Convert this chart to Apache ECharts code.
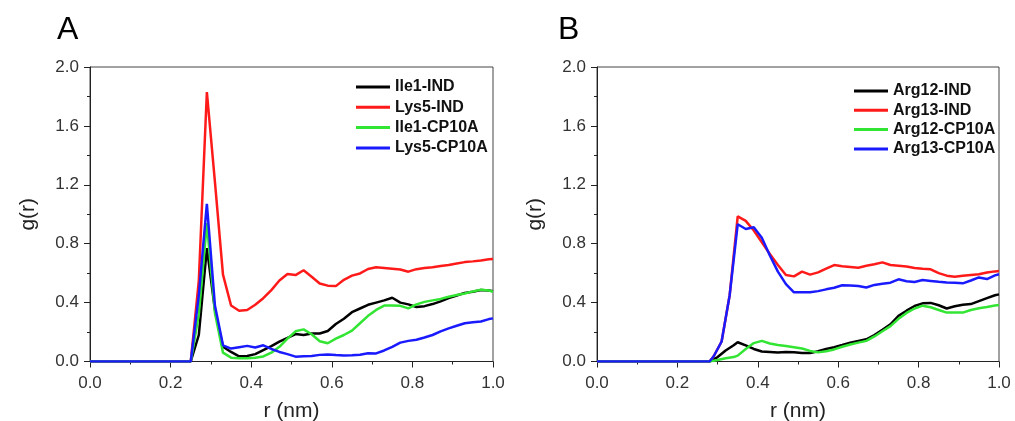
<!DOCTYPE html>
<html>
<head>
<meta charset="utf-8">
<script src="https://cdn.jsdelivr.net/npm/echarts@6/dist/echarts.min.js"></script>
<style>html,body{margin:0;padding:0;background:#fff;}#c{width:1015px;height:421px;}</style>
</head>
<body>
<div id="c"></div>
<script>
// ---- Data ----
const namesA = ['Ile1-IND', 'Lys5-IND', 'Ile1-CP10A', 'Lys5-CP10A'];
const namesB = ['Arg12-IND', 'Arg13-IND', 'Arg12-CP10A', 'Arg13-CP10A'];
const xTicks = [0, 0.2, 0.4, 0.6, 0.8, 1.0];
const yTicks = [0, 0.4, 0.8, 1.2, 1.6, 2.0];

const ile1IND = [[0,0],[0.25,0],[0.27,0.18],[0.29,0.77],[0.31,0.35],[0.33,0.10],[0.35,0.065],[0.37,0.035],[0.39,0.038],[0.41,0.05],[0.43,0.078],[0.45,0.105],[0.47,0.135],[0.49,0.16],[0.51,0.186],[0.53,0.18],[0.55,0.19],[0.57,0.19],[0.59,0.207],[0.61,0.255],[0.63,0.29],[0.65,0.335],[0.67,0.36],[0.69,0.385],[0.71,0.40],[0.73,0.415],[0.75,0.433],[0.77,0.40],[0.79,0.388],[0.81,0.37],[0.83,0.376],[0.85,0.39],[0.87,0.408],[0.89,0.43],[0.91,0.448],[0.93,0.466],[0.95,0.474],[0.97,0.485],[0.99,0.482],[1.0,0.478]];
const lys5IND = [[0,0],[0.25,0],[0.27,0.55],[0.29,1.83],[0.31,1.22],[0.33,0.59],[0.35,0.38],[0.37,0.345],[0.39,0.35],[0.41,0.385],[0.43,0.43],[0.45,0.485],[0.47,0.55],[0.49,0.594],[0.51,0.587],[0.53,0.62],[0.55,0.576],[0.57,0.53],[0.59,0.515],[0.61,0.512],[0.63,0.555],[0.65,0.583],[0.67,0.598],[0.69,0.628],[0.71,0.64],[0.73,0.635],[0.75,0.63],[0.77,0.625],[0.79,0.61],[0.81,0.627],[0.83,0.635],[0.85,0.64],[0.87,0.648],[0.89,0.655],[0.91,0.665],[0.93,0.675],[0.95,0.68],[0.97,0.686],[0.99,0.694],[1.0,0.696]];
const ile1CP = [[0,0],[0.25,0],[0.27,0.32],[0.29,0.94],[0.31,0.33],[0.33,0.06],[0.35,0.026],[0.37,0.022],[0.39,0.022],[0.41,0.026],[0.43,0.034],[0.45,0.06],[0.47,0.1],[0.49,0.155],[0.51,0.205],[0.53,0.218],[0.55,0.185],[0.57,0.138],[0.59,0.124],[0.61,0.155],[0.63,0.18],[0.65,0.21],[0.67,0.26],[0.69,0.31],[0.71,0.35],[0.73,0.38],[0.75,0.38],[0.77,0.378],[0.79,0.361],[0.81,0.388],[0.83,0.405],[0.85,0.415],[0.87,0.425],[0.89,0.44],[0.91,0.451],[0.93,0.462],[0.95,0.476],[0.97,0.488],[0.99,0.482],[1.0,0.474]];
const lys5CP = [[0,0],[0.25,0],[0.27,0.45],[0.29,1.07],[0.31,0.38],[0.33,0.11],[0.35,0.088],[0.37,0.097],[0.39,0.106],[0.41,0.095],[0.43,0.11],[0.45,0.085],[0.47,0.065],[0.49,0.05],[0.51,0.033],[0.53,0.036],[0.55,0.038],[0.57,0.045],[0.59,0.048],[0.61,0.044],[0.63,0.041],[0.65,0.043],[0.67,0.046],[0.69,0.056],[0.71,0.055],[0.73,0.075],[0.75,0.1],[0.77,0.128],[0.79,0.14],[0.81,0.148],[0.83,0.163],[0.85,0.18],[0.87,0.205],[0.89,0.225],[0.91,0.243],[0.93,0.26],[0.95,0.267],[0.97,0.272],[0.99,0.288],[1.0,0.293]];

const arg12IND = [[0,0],[0.28,0],[0.30,0.03],[0.32,0.075],[0.34,0.11],[0.35,0.131],[0.37,0.11],[0.39,0.085],[0.41,0.068],[0.43,0.065],[0.45,0.061],[0.47,0.065],[0.49,0.062],[0.51,0.058],[0.53,0.057],[0.55,0.07],[0.57,0.085],[0.59,0.097],[0.61,0.112],[0.63,0.128],[0.65,0.14],[0.67,0.151],[0.69,0.18],[0.71,0.215],[0.73,0.253],[0.75,0.31],[0.77,0.345],[0.79,0.377],[0.81,0.395],[0.83,0.398],[0.85,0.382],[0.87,0.36],[0.89,0.375],[0.91,0.386],[0.93,0.39],[0.95,0.41],[0.97,0.43],[0.99,0.45],[1.0,0.456]];
const arg13IND = [[0,0],[0.28,0],[0.29,0.034],[0.31,0.136],[0.33,0.45],[0.35,0.985],[0.37,0.955],[0.39,0.89],[0.41,0.81],[0.43,0.73],[0.45,0.655],[0.47,0.587],[0.49,0.578],[0.51,0.61],[0.53,0.59],[0.55,0.605],[0.57,0.63],[0.59,0.655],[0.61,0.647],[0.63,0.642],[0.65,0.637],[0.67,0.65],[0.69,0.66],[0.71,0.673],[0.73,0.655],[0.75,0.651],[0.77,0.645],[0.79,0.635],[0.81,0.63],[0.83,0.626],[0.85,0.6],[0.87,0.583],[0.89,0.576],[0.91,0.583],[0.93,0.588],[0.95,0.592],[0.97,0.605],[0.99,0.612],[1.0,0.614]];
const arg12CP = [[0,0],[0.28,0],[0.30,0.01],[0.32,0.022],[0.34,0.03],[0.35,0.04],[0.37,0.085],[0.39,0.125],[0.41,0.14],[0.43,0.122],[0.45,0.112],[0.47,0.105],[0.49,0.097],[0.51,0.088],[0.53,0.072],[0.55,0.062],[0.57,0.07],[0.59,0.082],[0.61,0.1],[0.63,0.115],[0.65,0.128],[0.67,0.14],[0.69,0.17],[0.71,0.205],[0.73,0.24],[0.75,0.29],[0.77,0.33],[0.79,0.36],[0.81,0.379],[0.83,0.368],[0.85,0.35],[0.87,0.332],[0.89,0.332],[0.91,0.332],[0.93,0.35],[0.95,0.362],[0.97,0.37],[0.99,0.38],[1.0,0.384]];
const arg13CP = [[0,0],[0.28,0],[0.29,0.034],[0.31,0.136],[0.33,0.45],[0.35,0.932],[0.37,0.9],[0.39,0.912],[0.41,0.84],[0.43,0.72],[0.45,0.61],[0.47,0.525],[0.49,0.47],[0.51,0.47],[0.53,0.47],[0.55,0.478],[0.57,0.49],[0.59,0.501],[0.61,0.518],[0.63,0.516],[0.65,0.512],[0.67,0.503],[0.69,0.52],[0.71,0.528],[0.73,0.535],[0.75,0.558],[0.77,0.545],[0.79,0.54],[0.81,0.553],[0.83,0.547],[0.85,0.541],[0.87,0.537],[0.89,0.535],[0.91,0.531],[0.93,0.55],[0.95,0.571],[0.97,0.56],[0.99,0.585],[1.0,0.592]];

const colors = ['#000000', '#ff1a1a', '#33e533', '#1a1aff'];

// ---- Chart ----
const FONT = '"Liberation Sans", Arial, sans-serif';
const chart = echarts.init(document.getElementById('c'), null, {renderer: 'canvas'});

function xAxisCfg(gi) {
  return {
    type: 'value', gridIndex: gi, min: xTicks[0], max: xTicks[xTicks.length - 1], interval: 0.2,
    name: 'r (nm)', nameLocation: 'middle', nameGap: 39,
    nameTextStyle: {fontFamily: FONT, fontSize: 21, color: '#222'},
    axisLine: {show: true, onZero: false, lineStyle: {color: '#222', width: 1}},
    axisTick: {show: true, inside: false, length: 6, lineStyle: {color: '#222'}},
    minorTick: {show: true, splitNumber: 2, length: 3, lineStyle: {color: '#222'}},
    splitLine: {show: false},
    axisLabel: {fontFamily: FONT, fontSize: 17, color: '#333', margin: 13, formatter: v => v.toFixed(1)}
  };
}
function yAxisCfg(gi) {
  return {
    type: 'value', gridIndex: gi, min: yTicks[0], max: yTicks[yTicks.length - 1], interval: 0.4,
    name: 'g(r)', nameLocation: 'middle', nameGap: 51, nameRotate: 90,
    nameTextStyle: {fontFamily: FONT, fontSize: 21, color: '#222'},
    axisLine: {show: true, onZero: false, lineStyle: {color: '#222', width: 1}},
    axisTick: {show: true, inside: false, length: 6, lineStyle: {color: '#222'}},
    minorTick: {show: true, splitNumber: 2, length: 3, lineStyle: {color: '#222'}},
    splitLine: {show: false},
    axisLabel: {fontFamily: FONT, fontSize: 17, color: '#333', margin: 11, formatter: v => v.toFixed(1)}
  };
}
function mkSeries(name, data, idx, gi) {
  return {
    name: name, type: 'line', xAxisIndex: gi, yAxisIndex: gi, data: data,
    showSymbol: false, symbol: 'none', smooth: false, animation: false,
    color: colors[idx],
    lineStyle: {color: colors[idx], width: 2.5},
    itemStyle: {color: colors[idx]}
  };
}
function legendCfg(names, left, top, gap) {
  return {
    data: names, orient: 'vertical', left: left, top: top, padding: 0,
    icon: 'rect', itemWidth: 34, itemHeight: 3, itemGap: gap,
    selectedMode: false,
    textStyle: {fontFamily: FONT, fontSize: 16, fontWeight: 'bold', color: '#111', lineHeight: 16}
  };
}

const seriesA = [ile1IND, lys5IND, ile1CP, lys5CP];
const seriesB = [arg12IND, arg13IND, arg12CP, arg13CP];

chart.setOption({
  backgroundColor: '#ffffff',
  animation: false,
  grid: [
    {left: 90, top: 67, width: 403, height: 294.5, outerBoundsMode: 'none', containLabel: false, show: true, borderColor: '#444', borderWidth: 1, backgroundColor: 'transparent'},
    {left: 597, top: 67, width: 402, height: 294.5, outerBoundsMode: 'none', containLabel: false, show: true, borderColor: '#444', borderWidth: 1, backgroundColor: 'transparent'}
  ],
  xAxis: [xAxisCfg(0), xAxisCfg(1)],
  yAxis: [yAxisCfg(0), yAxisCfg(1)],
  legend: [legendCfg(namesA, 356, 79, 4.3), legendCfg(namesB, 854, 83, 3.3)],
  graphic: [
    {type: 'text', left: 57, top: 14, style: {text: 'A', font: '32px ' + FONT, fill: '#000'}},
    {type: 'text', left: 558, top: 14, style: {text: 'B', font: '32px ' + FONT, fill: '#000'}}
  ],
  series: seriesA.map((d, i) => mkSeries(namesA[i], d, i, 0))
    .concat(seriesB.map((d, i) => mkSeries(namesB[i], d, i, 1)))
});
</script>
</body>
</html>
